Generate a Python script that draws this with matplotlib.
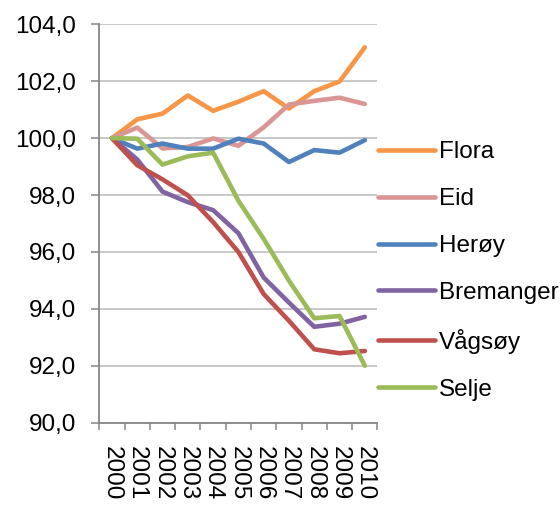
import numpy as np
import matplotlib
matplotlib.use("Agg")
import matplotlib.pyplot as plt

plt.rcParams['font.family'] = ['Liberation Sans', 'DejaVu Sans']

years = ['2000', '2001', '2002', '2003', '2004', '2005', '2006', '2007', '2008', '2009', '2010']
flora = [100.0, 100.66, 100.86, 101.50, 100.96, 101.28, 101.65, 101.04, 101.65, 101.99, 103.19]
eid = [100.0, 100.37, 99.64, 99.69, 99.99, 99.73, 100.38, 101.18, 101.31, 101.42, 101.20]
heroy = [100.0, 99.63, 99.81, 99.63, 99.63, 99.98, 99.81, 99.16, 99.58, 99.49, 99.93]
bremanger = [100.0, 99.25, 98.12, 97.75, 97.47, 96.66, 95.10, 94.22, 93.37, 93.48, 93.72]
vagsoy = [100.0, 99.05, 98.55, 97.99, 97.05, 96.0, 94.52, 93.58, 92.58, 92.44, 92.52]
selje = [100.0, 99.98, 99.07, 99.36, 99.49, 97.80, 96.46, 94.99, 93.67, 93.75, 92.0]

names = ['Flora', 'Eid', 'Herøy', 'Bremanger', 'Vågsøy', 'Selje']
colors = ['#F79646', '#D99694', '#4F81BD', '#8064A2', '#C0504D', '#9BBB59']
series = [flora, eid, heroy, bremanger, vagsoy, selje]

yticks = [90, 92, 94, 96, 98, 100, 102, 104]
ylabels = ['90,0', '92,0', '94,0', '96,0', '98,0', '100,0', '102,0', '104,0']

fs = 17.5

fig = plt.figure(figsize=(5.6, 5.07), dpi=100)
ax = fig.add_axes([99.3/560, 1-422.7/507, (377.5-99.3)/560, (422.7-24.3)/507])

x = np.arange(len(years))
for vals, name, col in zip(series, names, colors):
    ax.plot(x, vals, color=col, lw=3.3, label=name,
            solid_capstyle='round', solid_joinstyle='round')

ax.set_xlim(-0.5, len(years) - 0.5)
ax.set_ylim(90, 104)
ax.set_yticks(yticks)
ax.set_yticklabels(ylabels, fontsize=fs)
ax.yaxis.grid(True, color='#BFBFBF', lw=1.2)
ax.set_axisbelow(True)

ax.set_xticks(np.arange(len(years) + 1) - 0.5)
ax.set_xticklabels([])
ax.set_xticks(x, minor=True)
ax.set_xticklabels(years, minor=True, rotation=270, fontsize=fs)
ax.tick_params(axis='x', which='minor', length=0, pad=17)
ax.tick_params(axis='x', which='major', length=5, width=1.1, color='#868686')
ax.tick_params(axis='y', length=5.5, width=1.1, color='#868686', pad=11)

for s in ['top', 'right']:
    ax.spines[s].set_visible(False)
for s in ['left', 'bottom']:
    ax.spines[s].set_color('#868686')
    ax.spines[s].set_linewidth(1.3)

leg = fig.legend(loc='center left', bbox_to_anchor=(378/560, 1-271/507),
                 frameon=False, fontsize=fs, handlelength=2.35,
                 handletextpad=0.17, labelspacing=1.02, borderpad=0,
                 borderaxespad=0)

fig.savefig('out.png', dpi=100)
